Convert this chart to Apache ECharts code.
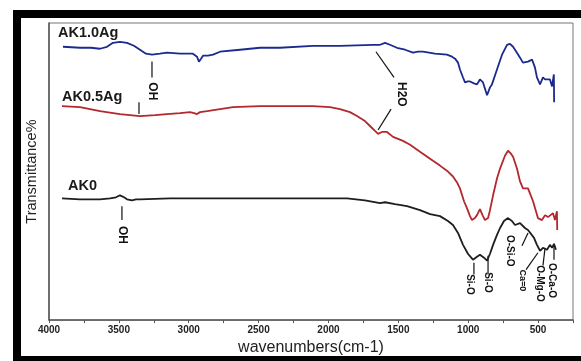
<!DOCTYPE html>
<html>
<head>
<meta charset="utf-8">
<script src="https://cdn.jsdelivr.net/npm/echarts@6/dist/echarts.min.js"></script>
<style>
  html, body { margin: 0; padding: 0; background: #fff; }
  #chart { width: 581px; height: 361px; }
</style>
</head>
<body>
<div id="chart"></div>
<script>
// FTIR spectra: [wavenumber (cm-1), transmittance (offset, arbitrary units)]
const ak10Ag = [
  [3900, 276], [3778, 275], [3700, 275], [3635, 274], [3585, 276], [3542, 280], [3492, 281],
  [3442, 280], [3392, 277], [3349, 273], [3306, 269], [3263, 268], [3206, 269], [3156, 270],
  [3062, 269], [2970, 269], [2941, 266], [2927, 261], [2912, 264], [2898, 267], [2862, 267],
  [2826, 268], [2776, 271], [2633, 273], [2490, 275], [2347, 275], [2111, 277], [1918, 277],
  [1681, 278], [1631, 278], [1595, 280], [1560, 278], [1510, 275], [1452, 273], [1395, 270],
  [1359, 271], [1323, 271], [1238, 269], [1152, 268], [1116, 266], [1094, 264], [1073, 260],
  [1059, 253], [1037, 245], [1023, 240], [1002, 241], [987, 241], [959, 239], [937, 238],
  [916, 243], [894, 240], [865, 227], [844, 235], [830, 238], [794, 253], [758, 268],
  [722, 278], [701, 279], [679, 276], [651, 270], [629, 265], [608, 260], [572, 261],
  [543, 263], [522, 255], [508, 245], [486, 238], [465, 245], [450, 243], [436, 241],
  [415, 243], [400, 236], [387, 248], [385, 220]
];
const ak05Ag = [
  [3907, 216], [3778, 215], [3635, 211], [3492, 208], [3349, 206], [3241, 207], [3156, 208],
  [3062, 209], [2991, 210], [2962, 209], [2941, 208], [2919, 210], [2869, 211], [2776, 213],
  [2683, 215], [2490, 216], [2347, 216], [2111, 216], [1989, 215], [1918, 213], [1846, 210],
  [1796, 206], [1739, 201], [1703, 196], [1667, 191], [1645, 188], [1617, 190], [1581, 190],
  [1538, 185], [1502, 183], [1467, 181], [1416, 177], [1345, 170], [1273, 163], [1202, 156],
  [1145, 150], [1109, 145], [1080, 139], [1059, 133], [1030, 120], [1009, 113], [987, 105],
  [973, 101], [952, 103], [937, 106], [916, 112], [894, 105], [880, 101], [858, 103],
  [844, 111], [822, 126], [794, 143], [772, 153], [737, 166], [715, 171], [694, 168],
  [679, 165], [651, 153], [629, 140], [608, 133], [594, 131], [572, 133], [558, 128],
  [536, 120], [515, 110], [501, 103], [472, 101], [450, 106], [429, 104], [415, 105],
  [393, 108], [379, 101], [365, 110], [363, 91]
];
const ak0 = [
  [3907, 123], [3778, 122], [3635, 122], [3563, 123], [3520, 124], [3492, 126], [3463, 124],
  [3442, 122], [3406, 121], [3377, 122], [3349, 122], [3134, 123], [2919, 123], [2905, 124],
  [2884, 123], [2562, 123], [2204, 123], [1867, 123], [1739, 121], [1631, 118], [1595, 119],
  [1524, 117], [1438, 115], [1345, 111], [1273, 107], [1202, 105], [1145, 100], [1109, 96],
  [1073, 88], [1037, 76], [1002, 67], [966, 61], [937, 64], [916, 66], [887, 63], [865, 60],
  [844, 67], [822, 76], [794, 86], [772, 93], [744, 100], [715, 103], [687, 100], [665, 96],
  [629, 98], [594, 93], [572, 91], [558, 93], [529, 83], [508, 76], [486, 70], [465, 73],
  [436, 71], [415, 76], [400, 73], [386, 77], [372, 71]
];

const seriesNames = ['AK1.0Ag', 'AK0.5Ag', 'AK0'];
const seriesColors = ['#1c2a8e', '#b3282d', '#1e1e1e'];
const tickLabels = [4000, 3500, 3000, 2500, 2000, 1500, 1000, 500];

// sample name anchors (left edge, middle) in axis units
const nameAnchors = [[3936, 290], [3907, 225], [3864, 135]];

// band assignments: text, leader line start/end and text centre, all in axis units
const bandText = ['OH', 'H2O', 'OH', 'Si-O', 'Si-O', 'O-Si-O', 'Ca=0', 'O-Mg-O', 'O-Ca-O'];
const bandLineFrom = [[3263, 261], [1660, 271], [3478, 115], [959, 58], [858, 65], [572, 88], [501, 68], [450, 73], [386, 76]];
const bandLineTo = [[3263, 245], [1531, 245], [3478, 101], [959, 46], [858, 46], [615, 75], [586, 51], [465, 55], [386, 61]];
const bandCentre = [[3263, 231], [1481, 228], [3478, 86], [987, 36], [858, 38], [701, 70], [615, 40], [486, 37], [400, 40]];
const bandSize = [12, 12, 12, 10, 10, 10, 9, 10, 10];
// extra leader lines (shared OH band on AK0.5Ag, lower H2O leader)
const extraLineFrom = [[3356, 220], [1552, 213]];
const extraLineTo = [[3356, 208], [1645, 192]];

const FONT = '"Liberation Sans", Arial, sans-serif';
const chart = echarts.init(document.getElementById('chart'), null, { renderer: 'canvas' });

chart.setOption({
  animation: false,
  backgroundColor: '#fff',
  grid: { left: 49, right: 8, top: 23, bottom: 38, show: true, borderColor: '#777', borderWidth: 1 },
  xAxis: {
    type: 'value', inverse: true, min: 250, max: 4000, interval: 250,
    axisLine: { show: true, lineStyle: { color: '#555', width: 1.5 } },
    axisTick: { show: true, length: 3, lineStyle: { color: '#555' } },
    splitLine: { show: false },
    axisLabel: {
      formatter: v => (tickLabels.includes(v) ? String(v) : ''),
      fontSize: 10, fontWeight: 'bold', color: '#222', margin: 5, fontFamily: FONT,
      showMinLabel: true, showMaxLabel: true
    },
    name: 'wavenumbers(cm-1)', nameLocation: 'middle', nameGap: 15,
    nameTextStyle: { fontSize: 16, color: '#222', fontFamily: FONT }
  },
  yAxis: {
    type: 'value', min: 0, max: 300,
    axisLine: { show: true, lineStyle: { color: '#555', width: 1.5 } },
    axisTick: { show: false }, axisLabel: { show: false }, splitLine: { show: false },
    name: 'Transmittance%', nameLocation: 'middle', nameGap: 10, nameRotate: 90,
    nameTextStyle: { fontSize: 14.5, color: '#222', fontFamily: FONT }
  },
  series: [ak10Ag, ak05Ag, ak0].map((d, i) => ({
    name: seriesNames[i], type: 'line', data: d, showSymbol: false, symbol: 'none',
    lineStyle: { color: seriesColors[i], width: 1.8 }, itemStyle: { color: seriesColors[i] }
  }))
});

const px = p => chart.convertToPixel({ gridIndex: 0 }, p);
const graphics = [
  // heavy frame around the figure
  { type: 'rect', shape: { x: 13, y: 10, width: 568, height: 8 }, style: { fill: '#000' } },
  { type: 'rect', shape: { x: 13, y: 10, width: 8, height: 351 }, style: { fill: '#000' } },
  { type: 'rect', shape: { x: 13, y: 356, width: 568, height: 5 }, style: { fill: '#000' } }
];
seriesNames.forEach((n, i) => {
  const p = px(nameAnchors[i]);
  graphics.push({ type: 'text', x: p[0], y: p[1],
    style: { text: n, font: 'bold 14.5px ' + FONT, fill: '#1a1a1a', align: 'left', textAlign: 'left', verticalAlign: 'middle', textVerticalAlign: 'middle' } });
});
const addLine = (a, b) => {
  const p1 = px(a), p2 = px(b);
  graphics.push({ type: 'line', shape: { x1: p1[0], y1: p1[1], x2: p2[0], y2: p2[1] }, style: { stroke: '#111', lineWidth: 1.2 } });
};
bandText.forEach((t, i) => {
  addLine(bandLineFrom[i], bandLineTo[i]);
  const c = px(bandCentre[i]);
  graphics.push({ type: 'text', x: c[0], y: c[1], rotation: -Math.PI / 2,
    style: { text: t, font: 'bold ' + bandSize[i] + 'px ' + FONT, fill: '#111', align: 'center', textAlign: 'center', verticalAlign: 'middle', textVerticalAlign: 'middle' } });
});
extraLineFrom.forEach((a, i) => addLine(a, extraLineTo[i]));

chart.setOption({ graphic: { elements: graphics } });
</script>
</body>
</html>
